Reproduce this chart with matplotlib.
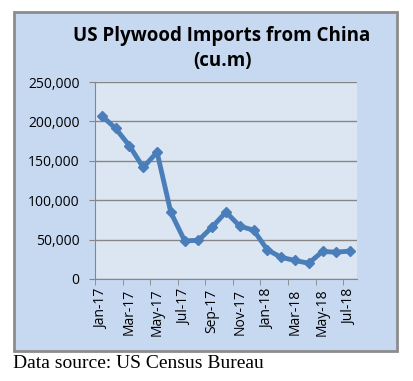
import matplotlib
matplotlib.use("Agg")
import matplotlib.pyplot as plt
from matplotlib.patches import Rectangle
import numpy as np

months = ["Jan-17", "Feb-17", "Mar-17", "Apr-17", "May-17", "Jun-17", "Jul-17",
          "Aug-17", "Sep-17", "Oct-17", "Nov-17", "Dec-17", "Jan-18", "Feb-18",
          "Mar-18", "Apr-18", "May-18", "Jun-18", "Jul-18"]
imports = [207000, 191000, 169000, 141500, 161000, 84500, 48500,
           49000, 66000, 85000, 67000, 62000, 37000, 27500,
           23500, 20000, 35000, 34000, 35500]
yticks = [0, 50000, 100000, 150000, 200000, 250000]

W, H = 414, 381
fig = plt.figure(figsize=(W / 100, H / 100), dpi=100)
fig.patch.set_facecolor("white")

# outer chart box
box = Rectangle((14 / W, 1 - 351 / H), 383 / W, 339 / H,
                transform=fig.transFigure, facecolor="#c6d9f1",
                edgecolor="#8c8c8c", linewidth=2, zorder=-5)
fig.add_artist(box)

ax = fig.add_axes([95 / W, 1 - 279 / H, 262 / W, 197 / H])
ax.set_zorder(2)
ax.set_facecolor("#dce6f2")

x = np.arange(len(months))
ax.plot(x, imports, color="#4a7ebb", linewidth=3.5, marker="D", markersize=5.5,
        zorder=3, solid_joinstyle="round")

ax.set_xlim(-0.5, len(months) - 0.5)
ax.set_ylim(0, 250000)
ax.set_yticks(yticks)
ax.set_yticklabels([f"{v:,}" for v in yticks], fontsize=10, family="Open Sans")
ax.yaxis.grid(True, color="#868686", linewidth=1)
ax.set_axisbelow(True)

ax.set_xticks(x[::2])
ax.set_xticklabels(months[::2], rotation=90, fontsize=10, family="Open Sans")
ax.set_xticks(np.arange(-0.5, len(months), 2), minor=True)
ax.tick_params(axis="x", which="major", length=0, pad=7)
ax.tick_params(axis="x", which="minor", length=4, color="#868686")
ax.tick_params(axis="y", length=4, color="#868686", pad=7)

for s in ["top", "right"]:
    ax.spines[s].set_visible(False)
for s in ["left", "bottom"]:
    ax.spines[s].set_color("#868686")

fig.text(222 / W, 1 - 36 / H, "US Plywood Imports from China", ha="center",
         va="center", fontsize=13.5, fontweight="bold", family="Open Sans")
fig.text(222 / W, 1 - 61 / H, "(cu.m)", ha="center", va="center",
         fontsize=13.5, fontweight="bold", family="Open Sans")

fig.text(13 / W, 1 - 363 / H, "Data source: US Census Bureau", ha="left",
         va="center", fontsize=14, family="Liberation Serif")

fig.savefig("out.png", dpi=100)
